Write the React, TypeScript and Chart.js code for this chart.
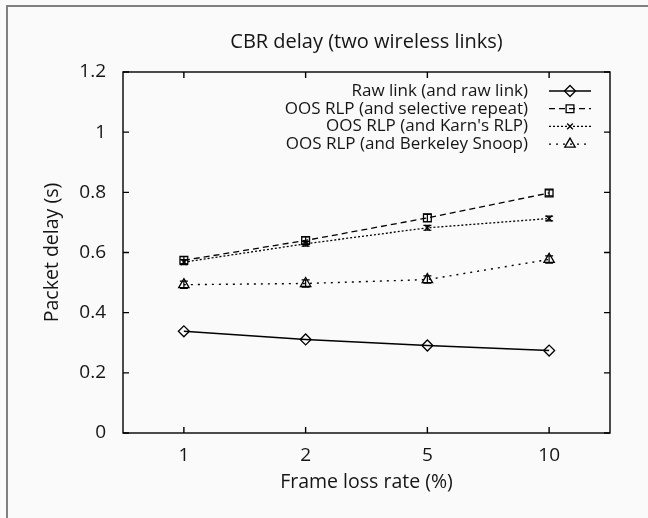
import React, { useEffect, useRef } from 'react';
import { Chart, registerables } from 'chart.js';

Chart.register(...registerables);

// ---- data ----
const categories = ['1', '2', '5', '10'];
const seriesLabels = [
  'Raw link (and raw link)',
  'OOS RLP (and selective repeat)',
  "OOS RLP (and Karn's RLP)",
  'OOS RLP (and Berkeley Snoop)',
];
const rawLink = [0.338, 0.311, 0.291, 0.274];
const selectiveRepeat = [0.574, 0.64, 0.715, 0.798];
const karnRlp = [0.568, 0.629, 0.682, 0.713];
const berkeleySnoop = [0.493, 0.497, 0.51, 0.577];
const rawLinkErr = [0, 0, 0, 0];
const selectiveRepeatErr = [0.012, 0.012, 0.012, 0.01];
const karnRlpErr = [0.008, 0.008, 0.008, 0.008];
const berkeleySnoopErr = [0.012, 0.012, 0.012, 0.012];
const yTickValues = [0, 0.2, 0.4, 0.6, 0.8, 1, 1.2];
const titleText = 'CBR delay (two wireless links)';
const xTitleText = 'Frame loss rate (%)';
const yTitleText = 'Packet delay (s)';

const FONT = "'Open Sans', 'Noto Sans', sans-serif";
const TEXT = '#151515';
const INK = '#000000';

function drawMarker(ctx: CanvasRenderingContext2D, style: string, x: number, y: number, r: number) {
  ctx.beginPath();
  if (style === 'rectRot') {
    ctx.moveTo(x - r, y);
    ctx.lineTo(x, y - r);
    ctx.lineTo(x + r, y);
    ctx.lineTo(x, y + r);
    ctx.closePath();
  } else if (style === 'rect') {
    const s = Math.SQRT1_2 * r;
    ctx.rect(x - s, y - s, 2 * s, 2 * s);
  } else if (style === 'triangle') {
    let rad = 0;
    ctx.moveTo(x + Math.sin(rad) * r, y - Math.cos(rad) * r);
    rad += (2 * Math.PI) / 3;
    ctx.lineTo(x + Math.sin(rad) * r, y - Math.cos(rad) * r);
    rad += (2 * Math.PI) / 3;
    ctx.lineTo(x + Math.sin(rad) * r, y - Math.cos(rad) * r);
    ctx.closePath();
  } else if (style === 'crossRot') {
    const s = Math.SQRT1_2 * r;
    ctx.moveTo(x - s, y - s);
    ctx.lineTo(x + s, y + s);
    ctx.moveTo(x - s, y + s);
    ctx.lineTo(x + s, y - s);
  }
  ctx.stroke();
}

const errors = [rawLinkErr, selectiveRepeatErr, karnRlpErr, berkeleySnoopErr];

const framePlugin = {
  id: 'gnuFrame',
  afterDraw(chart: any) {
    const { ctx, chartArea } = chart;
    const xs = chart.scales.x;
    const ys = chart.scales.y;
    ctx.save();
    ctx.strokeStyle = INK;
    ctx.lineWidth = 1.4;
    ctx.setLineDash([]);
    ctx.strokeRect(chartArea.left, chartArea.top, chartArea.right - chartArea.left, chartArea.bottom - chartArea.top);
    const tl = 6;
    ctx.beginPath();
    categories.forEach((_, i) => {
      const px = xs.getPixelForValue(i);
      ctx.moveTo(px, chartArea.bottom);
      ctx.lineTo(px, chartArea.bottom - tl);
      ctx.moveTo(px, chartArea.top);
      ctx.lineTo(px, chartArea.top + tl);
    });
    yTickValues.forEach((v) => {
      const py = ys.getPixelForValue(v);
      ctx.moveTo(chartArea.left, py);
      ctx.lineTo(chartArea.left + tl, py);
      ctx.moveTo(chartArea.right, py);
      ctx.lineTo(chartArea.right - tl, py);
    });
    ctx.stroke();

    // title
    ctx.fillStyle = TEXT;
    ctx.font = `20px ${FONT}`;
    ctx.textAlign = 'center';
    ctx.textBaseline = 'middle';
    ctx.fillText(titleText, (chartArea.left + chartArea.right) / 2, 42);

    // legend
    ctx.font = `17px ${FONT}`;
    ctx.textAlign = 'right';
    chart.data.datasets.forEach((ds: any, i: number) => {
      const y = 91 + i * 17.7;
      ctx.fillStyle = TEXT;
      ctx.fillText(ds.label, 528, y);
      ctx.strokeStyle = INK;
      ctx.lineWidth = ds.borderWidth;
      ctx.setLineDash(ds.borderDash || []);
      ctx.beginPath();
      ctx.moveTo(549, y);
      ctx.lineTo(591, y);
      ctx.stroke();
      ctx.setLineDash([]);
      ctx.lineWidth = ds.pointBorderWidth;
      drawMarker(ctx, ds.pointStyle, 570, y, ds.pointRadius);
    });
    ctx.restore();
  },
  afterDatasetsDraw(chart: any) {
    const { ctx } = chart;
    const xs = chart.scales.x;
    const ys = chart.scales.y;
    ctx.save();
    ctx.strokeStyle = INK;
    ctx.lineWidth = 1.2;
    ctx.setLineDash([]);
    chart.data.datasets.forEach((ds: any, i: number) => {
      const err = errors[i];
      ds.data.forEach((v: number, j: number) => {
        const e = err[j];
        if (!e) return;
        const px = xs.getPixelForValue(j);
        const y1 = ys.getPixelForValue(v - e);
        const y2 = ys.getPixelForValue(v + e);
        ctx.beginPath();
        ctx.moveTo(px, y1);
        ctx.lineTo(px, y2);
        ctx.moveTo(px - 4, y1);
        ctx.lineTo(px + 4, y1);
        ctx.moveTo(px - 4, y2);
        ctx.lineTo(px + 4, y2);
        ctx.stroke();
      });
    });
    ctx.restore();
  },
};

export default function App() {
  const canvasRef = useRef<HTMLCanvasElement | null>(null);

  useEffect(() => {
    if (!canvasRef.current) return;
    const common = {
      borderColor: INK,
      pointBorderColor: INK,
      pointBackgroundColor: 'rgba(0,0,0,0)',
      fill: false,
      tension: 0,
    };
    const chart = new Chart(canvasRef.current, {
      type: 'line',
      data: {
        labels: categories,
        datasets: [
          { ...common, label: seriesLabels[0], data: rawLink, borderWidth: 1.4, borderDash: [], pointStyle: 'rectRot', pointRadius: 5.5, pointBorderWidth: 1.3 },
          { ...common, label: seriesLabels[1], data: selectiveRepeat, borderWidth: 1.3, borderDash: [6, 4], pointStyle: 'rect', pointRadius: 5.5, pointBorderWidth: 1.3 },
          { ...common, label: seriesLabels[2], data: karnRlp, borderWidth: 1.3, borderDash: [2, 2], pointStyle: 'crossRot', pointRadius: 4, pointBorderWidth: 1.3 },
          { ...common, label: seriesLabels[3], data: berkeleySnoop, borderWidth: 1.4, borderDash: [2, 5], pointStyle: 'triangle', pointRadius: 6, pointBorderWidth: 1.3 },
        ],
      } as any,
      options: {
        animation: false,
        responsive: false,
        maintainAspectRatio: false,
        layout: { padding: { left: 0, right: 38, top: 72, bottom: 0 } },
        plugins: {
          legend: { display: false },
          title: { display: false },
          tooltip: { enabled: false },
        },
        scales: {
          x: {
            type: 'category',
            offset: true,
            grid: { display: false, drawTicks: false },
            border: { display: false },
            ticks: { color: TEXT, font: { family: FONT, size: 19 }, padding: 11, maxRotation: 0 },
            title: { display: true, text: xTitleText, color: TEXT, font: { family: FONT, size: 19.5 }, padding: { top: 0, bottom: 23.5 } },
            afterFit: (s: any) => { s.height = 85; },
          },
          y: {
            type: 'linear',
            min: 0,
            max: 1.2,
            afterBuildTicks: (s: any) => { s.ticks = yTickValues.map((v) => ({ value: v })); },
            grid: { display: false, drawTicks: false },
            border: { display: false },
            ticks: {
              color: TEXT,
              font: { family: FONT, size: 19 },
              padding: 17,
              callback: (v: any) => String(Math.round(Number(v) * 10) / 10),
            },
            title: { display: true, text: yTitleText, color: TEXT, font: { family: FONT, size: 19.5 }, padding: { top: 40.3, bottom: 0 } },
            afterFit: (s: any) => { s.width = 123; },
          },
        },
      } as any,
      plugins: [framePlugin],
    });
    return () => chart.destroy();
  }, []);

  return (
    <div style={{ position: 'fixed', left: 0, top: 0, width: 648, height: 518, background: '#fafafa', overflow: 'hidden' }}>
      <div style={{ position: 'absolute', left: 6, top: 5, width: 700, height: 600, borderLeft: '2px solid #808080', borderTop: '2px solid #808080' }} />
      <canvas ref={canvasRef} width={648} height={518} style={{ position: 'absolute', left: 0, top: 0, width: 648, height: 518 }} />
    </div>
  );
}
